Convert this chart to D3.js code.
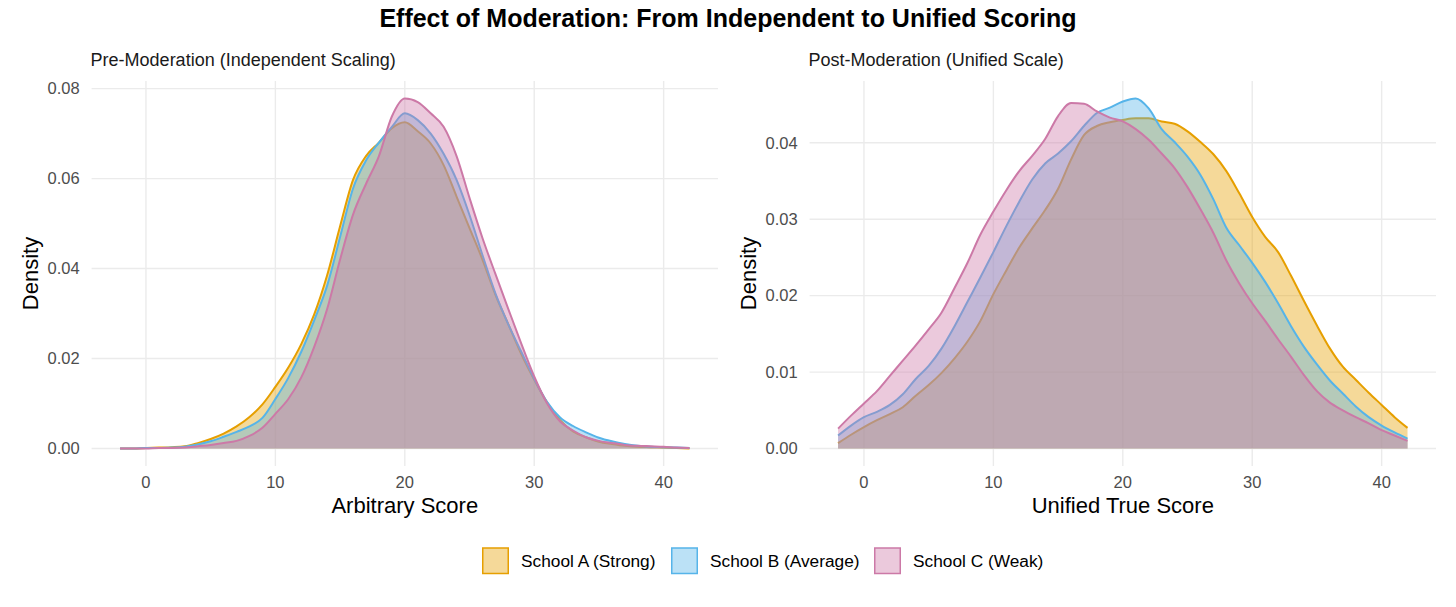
<!DOCTYPE html>
<html>
<head>
<meta charset="utf-8">
<script src="https://cdn.jsdelivr.net/npm/d3@7"></script>
<style>
  body { margin: 0; background: #fff; }
  text { font-family: "Liberation Sans", Arial, sans-serif; }
</style>
</head>
<body>
<svg id="chart" width="1456" height="607"></svg>
<script>
// score grid the densities were read at (-2 .. 42)
const scores = d3.range(-2, 43);

// pre-moderation densities (independent scaling)
const preA = [0.0000,0.0000,0.0001,0.0002,0.0003,0.0005,0.0012,0.0021,0.0033,0.0049,0.0070,0.0098,0.0137,0.0180,0.0232,0.0298,0.0385,0.0494,0.0597,0.0650,0.0680,0.0712,0.0725,0.0705,0.0678,0.0630,0.0560,0.0490,0.0420,0.0342,0.0276,0.0210,0.0153,0.0102,0.0063,0.0038,0.0025,0.0015,0.0010,0.0006,0.0004,0.0003,0.0002,0.0001,0.0000];
const preB = [0.0000,0.0000,0.0001,0.0001,0.0002,0.0004,0.0009,0.0016,0.0026,0.0037,0.0049,0.0068,0.0110,0.0157,0.0215,0.0285,0.0362,0.0470,0.0578,0.0640,0.0680,0.0715,0.0745,0.0730,0.0700,0.0655,0.0597,0.0519,0.0430,0.0345,0.0276,0.0215,0.0155,0.0103,0.0069,0.0050,0.0036,0.0024,0.0016,0.0010,0.0006,0.0004,0.0003,0.0002,0.0001];
const preC = [0.0000,0.0000,0.0000,0.0001,0.0001,0.0002,0.0005,0.0008,0.0012,0.0017,0.0028,0.0046,0.0077,0.0110,0.0158,0.0226,0.0310,0.0420,0.0520,0.0588,0.0650,0.0738,0.0778,0.0770,0.0745,0.0715,0.0650,0.0557,0.0468,0.0388,0.0310,0.0233,0.0160,0.0100,0.0060,0.0040,0.0025,0.0017,0.0012,0.0008,0.0006,0.0005,0.0004,0.0002,0.0001];

// post-moderation densities (unified scale)
const postA = [0.0007,0.0018,0.0028,0.0037,0.0045,0.0054,0.0069,0.0083,0.0099,0.0118,0.0140,0.0167,0.0202,0.0233,0.0263,0.0288,0.0312,0.0340,0.0378,0.0410,0.0422,0.0427,0.0430,0.0432,0.0432,0.0428,0.0425,0.0415,0.0401,0.0385,0.0363,0.0334,0.0303,0.0277,0.0257,0.0226,0.0193,0.0161,0.0131,0.0107,0.0090,0.0073,0.0057,0.0041,0.0027];
const postB = [0.0017,0.0030,0.0041,0.0048,0.0057,0.0071,0.0091,0.0108,0.0131,0.0160,0.0192,0.0224,0.0257,0.0291,0.0323,0.0352,0.0373,0.0386,0.0402,0.0422,0.0439,0.0446,0.0454,0.0458,0.0445,0.0418,0.0401,0.0382,0.0358,0.0326,0.0289,0.0266,0.0243,0.0218,0.0190,0.0160,0.0133,0.0110,0.0089,0.0072,0.0055,0.0041,0.0030,0.0021,0.0013];
const postC = [0.0026,0.0043,0.0059,0.0075,0.0095,0.0115,0.0135,0.0156,0.0178,0.0210,0.0243,0.0280,0.0310,0.0338,0.0363,0.0383,0.0405,0.0435,0.0452,0.0451,0.0441,0.0433,0.0428,0.0418,0.0404,0.0386,0.0367,0.0342,0.0313,0.0282,0.0246,0.0216,0.0190,0.0167,0.0143,0.0120,0.0096,0.0075,0.0060,0.0050,0.0041,0.0033,0.0024,0.0017,0.0010];

const schools = ["School A (Strong)", "School B (Average)", "School C (Weak)"];
const colors = ["#E69F00", "#56B4E9", "#CC79A7"];
const xTicks = [0, 10, 20, 30, 40];

const svg = d3.select("#chart");

// main title
svg.append("text")
  .attr("x", 728).attr("y", 27)
  .attr("text-anchor", "middle")
  .style("font-size", "25px").style("font-weight", "bold")
  .text("Effect of Moderation: From Independent to Unified Scoring");

function drawPanel(opts) {
  const top = 81, bottom = 466;
  const series = opts.series;

  // ggplot style 5% expansion on both axes
  const xMin = d3.min(scores), xMax = d3.max(scores);
  const xPad = (xMax - xMin) * 0.05;
  const x = d3.scaleLinear().domain([xMin - xPad, xMax + xPad]).range([opts.left, opts.right]);
  const yMax = d3.max(series, s => d3.max(s));
  const y = d3.scaleLinear().domain([-yMax * 0.05, yMax * 1.05]).range([bottom, top]);

  const g = svg.append("g");

  // grid
  g.selectAll(".hgrid").data(opts.yTicks).join("line")
    .attr("x1", opts.left).attr("x2", opts.right)
    .attr("y1", d => y(d)).attr("y2", d => y(d))
    .attr("stroke", "#EBEBEB").attr("stroke-width", 1.4);
  g.selectAll(".vgrid").data(xTicks).join("line")
    .attr("x1", d => x(d)).attr("x2", d => x(d))
    .attr("y1", top).attr("y2", bottom)
    .attr("stroke", "#EBEBEB").attr("stroke-width", 1.4);

  // densities, drawn in order A, B, C
  const area = d3.area()
    .x((d, i) => x(scores[i]))
    .y0(y(0))
    .y1(d => y(d))
    .curve(d3.curveMonotoneX);
  const line = d3.line()
    .x((d, i) => x(scores[i]))
    .y(d => y(d))
    .curve(d3.curveMonotoneX);

  series.forEach((s, k) => {
    g.append("path").datum(s)
      .attr("d", area)
      .attr("fill", colors[k]).attr("fill-opacity", 0.4);
    g.append("path").datum(s)
      .attr("d", line)
      .attr("fill", "none")
      .attr("stroke", colors[k]).attr("stroke-width", 2);
  });

  // y tick labels
  g.selectAll(".ylab").data(opts.yTicks).join("text")
    .attr("x", opts.left - 12).attr("y", d => y(d))
    .attr("dy", "0.35em")
    .attr("text-anchor", "end")
    .attr("fill", "#4D4D4D")
    .style("font-size", "16.5px")
    .text(d3.format(".2f"));

  // x tick labels
  g.selectAll(".xlab").data(xTicks).join("text")
    .attr("x", d => x(d)).attr("y", 488)
    .attr("text-anchor", "middle")
    .attr("fill", "#4D4D4D")
    .style("font-size", "16.5px")
    .text(d => d);

  // axis titles
  g.append("text")
    .attr("x", (opts.left + opts.right) / 2).attr("y", 513)
    .attr("text-anchor", "middle")
    .style("font-size", "22px")
    .text(opts.xTitle);
  g.append("text")
    .attr("transform", `translate(${opts.left - 54}, ${(top + bottom) / 2}) rotate(-90)`)
    .attr("text-anchor", "middle")
    .style("font-size", "22px")
    .text("Density");

  // subtitle
  g.append("text")
    .attr("x", opts.left - 1).attr("y", 66)
    .attr("fill", "#1A1A1A")
    .style("font-size", "18px")
    .text(opts.subtitle);
}

drawPanel({
  left: 91.6, right: 718,
  series: [preA, preB, preC],
  yTicks: [0, 0.02, 0.04, 0.06, 0.08],
  xTitle: "Arbitrary Score",
  subtitle: "Pre-Moderation (Independent Scaling)"
});

drawPanel({
  left: 809.6, right: 1436,
  series: [postA, postB, postC],
  yTicks: [0, 0.01, 0.02, 0.03, 0.04],
  xTitle: "Unified True Score",
  subtitle: "Post-Moderation (Unified Scale)"
});

// legend
const legendX = [482, 671, 874];
const legend = svg.append("g");
schools.forEach((name, k) => {
  legend.append("rect")
    .attr("x", legendX[k] + 0.75).attr("y", 548)
    .attr("width", 25.5).attr("height", 25.5)
    .attr("fill", colors[k]).attr("fill-opacity", 0.4)
    .attr("stroke", colors[k]).attr("stroke-width", 1.5);
  legend.append("text")
    .attr("x", legendX[k] + 39).attr("y", 561)
    .attr("dy", "0.35em")
    .style("font-size", "17.3px")
    .text(name);
});
</script>
</body>
</html>
